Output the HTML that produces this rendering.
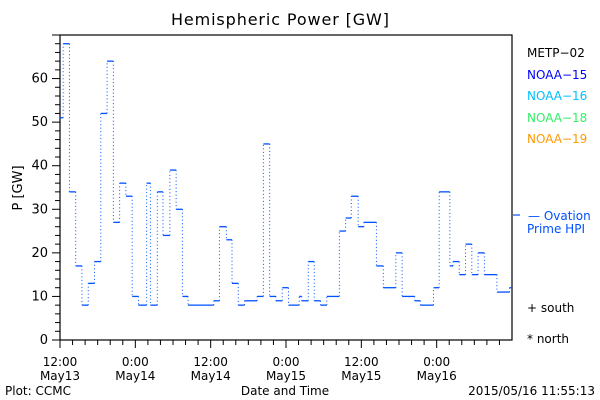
<!DOCTYPE html>
<html><head><meta charset="utf-8"><style>
html,body{margin:0;padding:0;background:#fff;}
svg{display:block;font-family:"DejaVu Sans","Liberation Sans",sans-serif;}
</style></head><body>
<svg id="chart" width="600" height="400" viewBox="0 0 600 400" xmlns="http://www.w3.org/2000/svg">
<rect width="600" height="400" fill="#fff"/>
<text x="280" y="25" text-anchor="middle" font-size="16" textLength="218">Hemispheric Power [GW]</text>
<rect x="60" y="35" width="452" height="305" fill="none" stroke="#000" stroke-width="1.2"/>
<g id="yaxis"></g>
<g id="xaxis"></g>
<g id="series"></g>
<text transform="translate(22,188) rotate(-90)" text-anchor="middle" font-size="13">P [GW]</text>
<text x="285" y="395" text-anchor="middle" font-size="12">Date and Time</text>
<text x="5" y="395" font-size="12">Plot: CCMC</text>
<text x="595" y="395" text-anchor="end" font-size="12">2015/05/16 11:55:13</text>
<g font-size="12">
<text x="527" y="57" fill="#000">METP−02</text>
<text x="527" y="79" fill="#0000ff">NOAA−15</text>
<text x="527" y="100" fill="#00bfff">NOAA−16</text>
<text x="527" y="122" fill="#33ee66">NOAA−18</text>
<text x="527" y="143" fill="#ff9900">NOAA−19</text>
<line x1="513" y1="215" x2="520" y2="215" stroke="#0050ff" stroke-width="1.2"/>
<text x="528" y="220" fill="#0050ff">— Ovation</text>
<text x="527" y="233" fill="#0050ff">Prime HPI</text>
<text x="527" y="312" fill="#000">+ south</text>
<text x="527" y="343" fill="#000">* north</text>
</g>
</svg>
<script>
const stepStarts=[0,0.5,1.5,2.5,3.5,4.5,5.5,6.5,7.5,8.5,9.5,10.5,11.5,12.5,13.8,14.4,15.5,16.4,17.5,18.5,19.5,20.4,24.5,25.4,26.5,27.4,28.4,29.4,31.4,32.4,33.4,34.4,35.4,36.4,38.1,38.5,39.55,40.5,41.5,42.5,44.5,45.5,46.4,47.5,48.4,50.4,51.5,53.5,54.5,56.5,57.4,59.5,60.4,62.1,62.6,63.6,64.6,65.6,66.6,67.6,69.6,71.6];
const powerValues=[51,68,34,17,8,13,18,52,64,27,36,33,10,8,36,8,34,24,39,30,10,8,9,26,23,13,8,9,10,45,10,9,12,8,10,9,18,9,8,10,25,28,33,26,27,17,12,20,10,9,8,12,34,17,18,15,22,15,20,15,11,12];
const yTicks=[0,10,20,30,40,50,60];
const xTickHours=[0,12,24,36,48,60];
const xTickTimes=["12:00","0:00","12:00","0:00","12:00","0:00"];
const xTickDates=["May13","May14","May14","May15","May15","May16"];
const NS="http://www.w3.org/2000/svg";
const X0=60,X1=512,Y0=340,YT=35,HMAX=72,VMAX=70;
function xs(h){return X0+(X1-X0)*h/HMAX;}
function ys(v){return Y0-(Y0-YT)*v/VMAX;}
function mk(tag,at,parent){const e=document.createElementNS(NS,tag);for(const k in at)e.setAttribute(k,at[k]);parent.appendChild(e);return e;}
const ya=document.getElementById('yaxis'),xa=document.getElementById('xaxis'),sg=document.getElementById('series');
for(let v=0;v<=VMAX;v+=2){const major=v%10===0;
 const t=mk('line',{x1:X0-(major?8:5),x2:X0,y1:ys(v),y2:ys(v),stroke:'#000','stroke-width':1},ya);
 
 }
yTicks.forEach(v=>{const t=mk('text',{x:X0-12,y:ys(v)+4,'text-anchor':'end','font-size':13},ya);t.textContent=v;
 
 });
for(let h=0;h<HMAX;h+=2){const major=h%12===0;
 const t=mk('line',{x1:xs(h),x2:xs(h),y1:Y0,y2:Y0+(major?8:5),stroke:'#000','stroke-width':1},xa);
 
 }
xTickHours.forEach((h,i)=>{
 const a=mk('text',{x:xs(h),y:366,'text-anchor':'middle','font-size':12},xa);a.textContent=xTickTimes[i];
 
 
 const b=mk('text',{x:xs(h),y:380,'text-anchor':'middle','font-size':12},xa);b.textContent=xTickDates[i];
 
 });
for(let i=0;i<stepStarts.length;i++){
 const s=stepStarts[i],e=i+1<stepStarts.length?stepStarts[i+1]:HMAX;
 const h=mk('line',{x1:xs(s),x2:xs(e),y1:ys(powerValues[i]),y2:ys(powerValues[i]),stroke:'#0050ff','stroke-width':1.3},sg);
 
 
 if(i+1<stepStarts.length){
  const v=mk('line',{x1:xs(e),x2:xs(e),y1:ys(powerValues[i]),y2:ys(powerValues[i+1]),stroke:'#0050ff','stroke-width':1,'stroke-dasharray':'1,2.5'},sg);
  
  }
}
</script>
</body></html>
